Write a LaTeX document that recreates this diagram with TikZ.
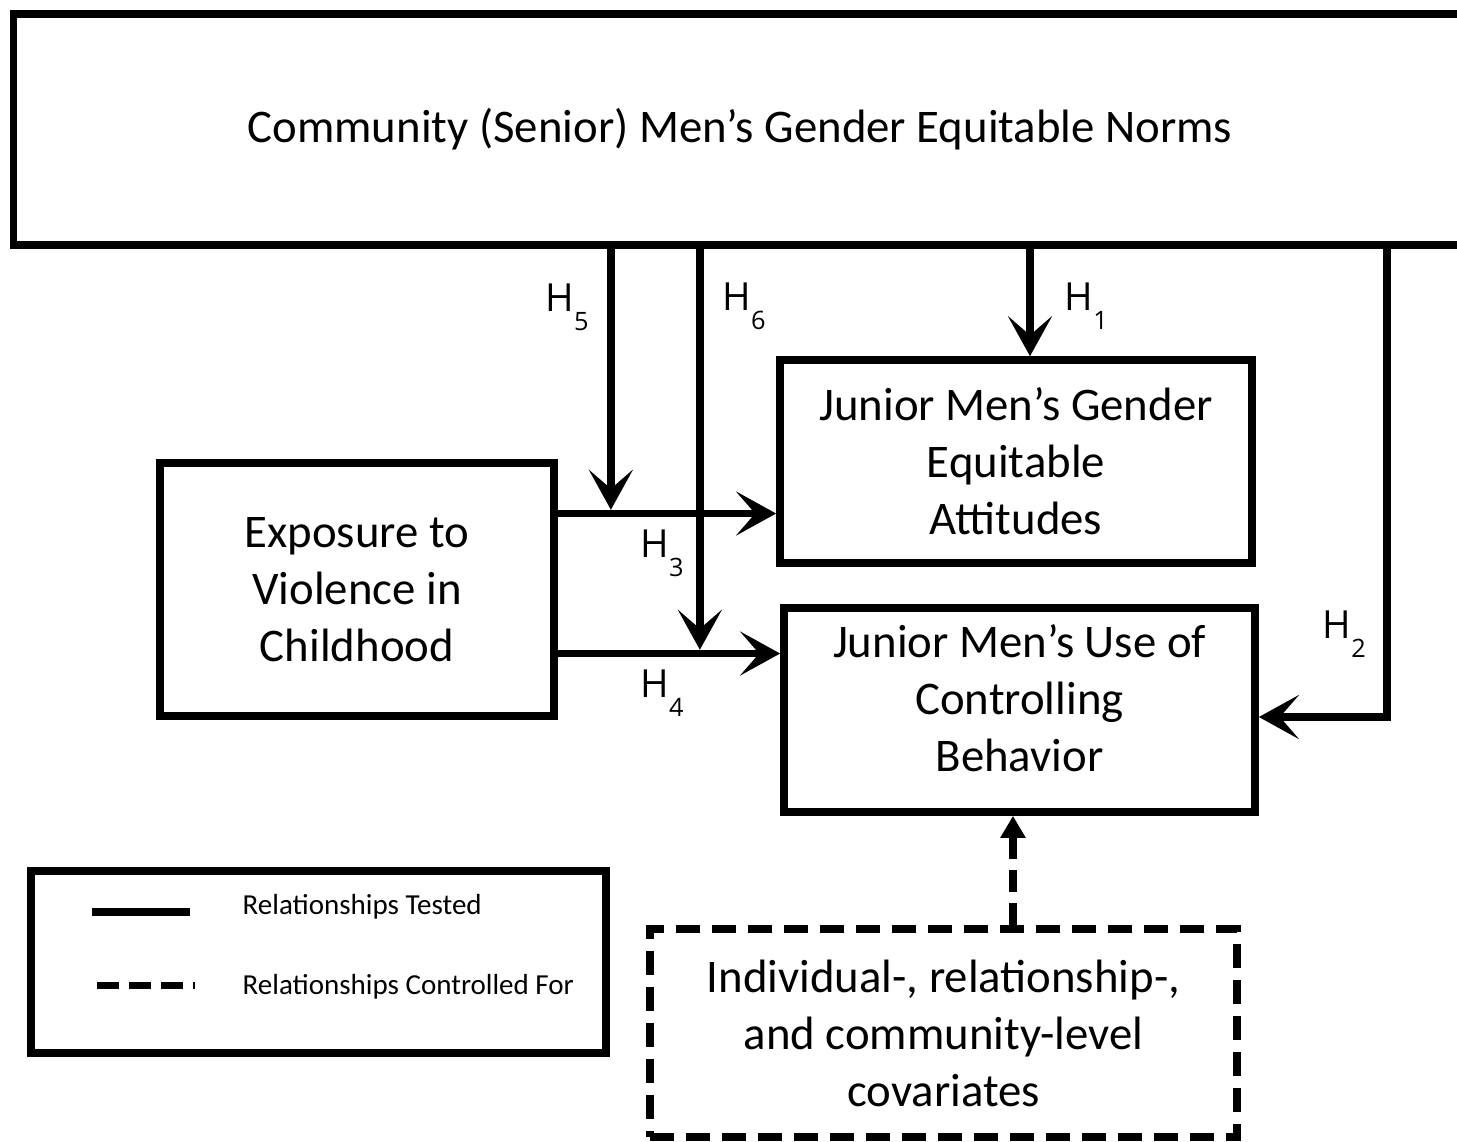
\documentclass[tikz,border=0pt]{standalone}
\usepackage{fontspec}
\setmainfont{Carlito}
\newfontfamily\hfont{Open Sans}
\usepackage{tikz}
\usetikzlibrary{arrows.meta, positioning, calc}
\tikzset{
  block/.style={rectangle, draw=black, line width=0.075cm, align=center,
    font=\fontsize{13.3}{16.2}\selectfont, inner sep=0pt},
  dashblock/.style={block, dash pattern=on 0.24cm off 0.12cm},
  arrow/.style={-{Stealth[length=0.40cm, width=0.44cm, inset=0.19cm]}, line width=0.075cm},
  dasharrow/.style={-{Triangle[length=0.22cm, width=0.24cm]}, line width=0.075cm,
    dash pattern=on 0.22cm off 0.11cm},
  hlabel/.style={anchor=base west, inner sep=0pt, font=\hfont\fontsize{11}{13}\selectfont},
  legtext/.style={anchor=base west, inner sep=0pt, font=\fontsize{8.25}{10}\selectfont}
}
\newcommand{\hyp}[1]{H\raisebox{-0.19cm}{\fontsize{7.2}{8}\selectfont #1}}

\begin{document}
\begin{tikzpicture}[x=0.01cm, y=-0.01cm]
  \useasboundingbox (0,0) rectangle (1457,1141);
  \clip (0,0) rectangle (1457,1141);

  % Community norms (runs off the right edge)
  \node[block, minimum width=14.52cm, minimum height=2.31cm] (norms) at (740,129.5)
    {Community (Senior) Men’s Gender Equitable Norms};

  % Outcome boxes
  \node[block, minimum width=4.72cm, minimum height=2.03cm] (att) at (1016,461.5)
    {Junior Men’s Gender\\Equitable\\Attitudes};
  \node[block, minimum width=4.71cm, minimum height=2.04cm,
    text height=42.3pt, text depth=7.5pt] (beh) at (1019.5,710)
    {Junior Men’s Use of\\Controlling\\Behavior};

  % Exposure
  \node[block, minimum width=3.94cm, minimum height=2.53cm] (expo) at (357,589.5)
    {Exposure to\\Violence in\\Childhood};

  % Covariates
  \node[dashblock, minimum width=5.87cm, minimum height=2.08cm] (cov) at (943.5,1033)
    {Individual-, relationship-,\\and community-level\\covariates};

  % H1
  \coordinate (h1end) at ($(att.north)+(14,0)$);
  \draw[arrow] (h1end |- norms.south) -- (h1end);
  \node[hlabel] (lh1) at (1064,310) {\hyp{1}};

  % H3 and H5
  \coordinate (h3start) at ($(expo.east)+(0,-76)$);
  \draw[arrow] (h3start) -- (h3start -| att.west);
  \coordinate (h5end) at ($(h3start)+(53,-3.75)$);
  \draw[arrow] (h5end |- norms.south) -- (h5end);
  \node[hlabel] (lh3) at (640,557) {\hyp{3}};
  \node[hlabel] (lh5) at (545,311) {\hyp{5}};

  % H4 and H6
  \coordinate (h4start) at ($(expo.east)+(0,64)$);
  \draw[arrow] (h4start) -- (h4start -| beh.west);
  \coordinate (h6end) at ($(h4start)+(142,-3.75)$);
  \draw[arrow] (h6end |- norms.south) -- (h6end);
  \node[hlabel] (lh4) at (640,697) {\hyp{4}};
  \node[hlabel] (lh6) at (722,310) {\hyp{6}};

  % H2
  \coordinate (h2turn) at ($(beh.east)+(128,7)$);
  \draw[arrow] (h2turn |- norms.south) -- (h2turn) -- (h2turn -| beh.east);
  \node[hlabel] (lh2) at (1322,638) {\hyp{2}};

  % Covariates to behaviour
  \coordinate (covup) at ($(cov.north)+(69.5,0)$);
  \draw[dasharrow] (covup) -- (covup |- beh.south);

  % Legend
  \node[block, minimum width=5.75cm, minimum height=1.82cm] (legend) at (318.5,962) {};
  \node[legtext] (ltested) at (242,914) {Relationships Tested};
  \node[legtext] (lcontrol) at (242,994) {Relationships Controlled For};
  \draw[line width=0.08cm] (92,912) -- (190,912);
  \draw[line width=0.07cm, dash pattern=on 0.22cm off 0.1cm] (97,985) -- (195,985);
\end{tikzpicture}
\end{document}
